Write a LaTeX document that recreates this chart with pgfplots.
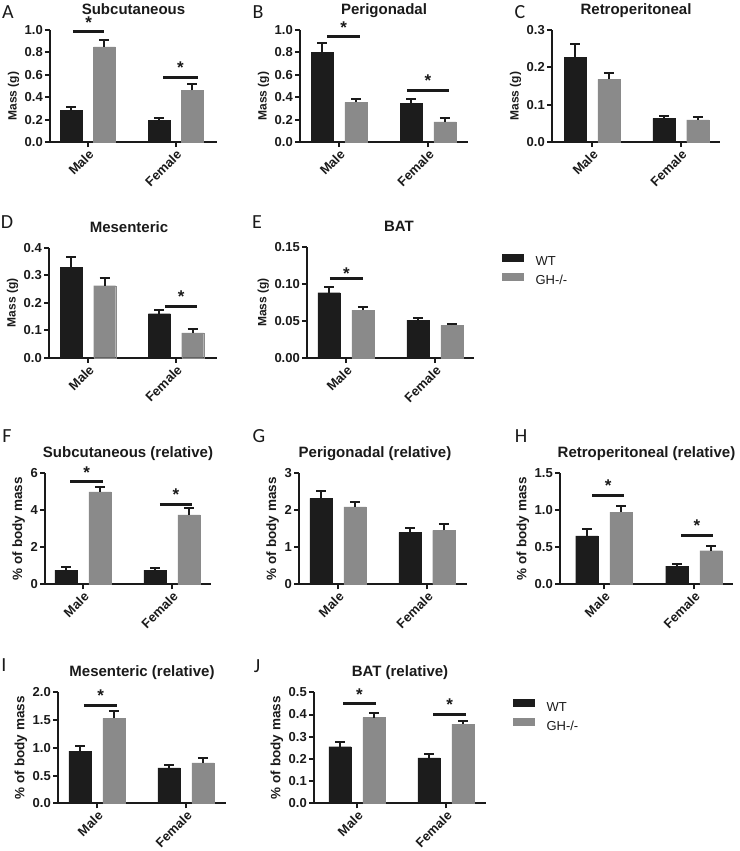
\documentclass[border=0pt]{standalone}
\usepackage{fontspec}
\setmainfont{Liberation Sans}
\newfontfamily\letterfont{Carlito}
\usepackage{pgfplots}
\pgfplotsset{compat=1.18}
\definecolor{wt}{HTML}{1C1C1C}
\definecolor{gh}{HTML}{8A8A8A}
\definecolor{ax}{HTML}{1A1A1A}
\pgfplotsset{
  pan/.style={
    scale only axis, anchor=south west,
    axis lines=left, axis line style={-, line width=2pt, ax},
    ymin=0, xtick={0,1}, xticklabels={Male,Female},
    tick align=outside, major tick length=5pt,
    tick style={line width=2pt, ax},
    every tick label/.append style={font=\bfseries\fontsize{13}{13}\selectfont, text=ax},
    xticklabel style={rotate=45, anchor=north east, inner sep=1pt},
    yticklabel style={inner sep=2pt},
    ylabel style={font=\bfseries\fontsize{12}{12}\selectfont, text=ax},
    title style={font=\bfseries\fontsize{15}{15}\selectfont, text=ax, at={(0.5,1)}, anchor=base, yshift=9.6pt},
    clip=false,
  },
  relpan/.style={pan, ylabel={\% of body mass}, ylabel style={font=\bfseries\fontsize{13.5}{13.5}\selectfont}},
  wtbar/.style={ybar, bar width=0.25, bar shift=0pt, fill=wt, draw=wt, line width=0.3pt,
    error bars/.cd, y dir=plus, y explicit, error mark=|,
    error bar style={draw=ax, line width=2pt},
    error mark options={draw=ax, line width=2pt, mark size=5pt}},
  ghbar/.style={ybar, bar width=0.25, bar shift=0pt, fill=gh, draw=gh, line width=0.3pt,
    error bars/.cd, y dir=plus, y explicit, error mark=|,
    error bar style={draw=ax, line width=2pt},
    error mark options={draw=ax, line width=2pt, mark size=5pt}},
  lwt/.style={legend image code/.code={\fill[wt] (0pt,1.15pt) rectangle (21pt,8.15pt);}},
  lgh/.style={legend image code/.code={\fill[gh] (0pt,1.15pt) rectangle (21pt,8.15pt);}},
  leg/.style={legend style={at={#1}, anchor=north west, draw=none, fill=none, inner sep=0pt,
    font=\fontsize{13}{13}\selectfont, text=ax, row sep=5.3pt, column sep=12pt, nodes={inner sep=0pt}},
    legend cell align=left},
}
% \sig[yshift]{x1}{x2}{xc}{y}
\newcommand\sig[5][3.3pt]{%
  \draw[line width=3pt, ax] (axis cs:#2,#5) -- (axis cs:#3,#5);
  \node[font=\bfseries\fontsize{17}{17}\selectfont, text=ax, anchor=base, inner sep=0pt, yshift=#1] at (axis cs:#4,#5) {*};
}
\begin{document}
\begin{tikzpicture}
\path[use as bounding box] (0,0) rectangle (739pt,-851pt);

% panel letters
\begin{scope}[every node/.style={font=\letterfont\fontsize{20}{20}\selectfont, text=ax, inner sep=0pt}]
\node at (8pt,-12pt) {A};
\node at (258pt,-12pt) {B};
\node at (520pt,-12pt) {C};
\node at (7pt,-222pt) {D};
\node at (257pt,-222pt) {E};
\node at (7pt,-436pt) {F};
\node at (259pt,-436pt) {G};
\node at (521pt,-436pt) {H};
\node at (4pt,-665pt) {I};
\node at (257pt,-666pt) {J};
\end{scope}

% A
\begin{axis}[pan, at={(50pt,-142pt)}, width=167pt, height=112pt, xmin=-0.43, xmax=1.47, ymax=1.0,
  ytick={0,0.2,0.4,0.6,0.8,1.0}, yticklabels={0.0,0.2,0.4,0.6,0.8,1.0},
  title={Subcutaneous}, ylabel={Mass (g)}, ylabel style={at={(ticklabel cs:0.41)}}]
\addplot[wtbar] coordinates {(-0.19,0.28) +- (0,0.03) (0.81,0.196) +- (0,0.019)};
\addplot[ghbar] coordinates {(0.19,0.85) +- (0,0.06) (1.19,0.46) +- (0,0.06)};
\sig{-0.17}{0.19}{0.01}{0.985}
\sig{0.86}{1.25}{1.055}{0.58}
\end{axis}

% B
\begin{axis}[pan, at={(300pt,-142pt)}, width=168pt, height=112pt, xmin=-0.44, xmax=1.45, ymax=1.0,
  ytick={0,0.2,0.4,0.6,0.8,1.0}, yticklabels={0.0,0.2,0.4,0.6,0.8,1.0},
  title={Perigonadal}, ylabel={Mass (g)}, ylabel style={at={(ticklabel cs:0.41)}}]
\addplot[wtbar] coordinates {(-0.19,0.80) +- (0,0.08) (0.81,0.348) +- (0,0.036)};
\addplot[ghbar] coordinates {(0.19,0.354) +- (0,0.03) (1.19,0.18) +- (0,0.034)};
\sig{-0.135}{0.236}{0.05}{0.94}
\sig{0.764}{1.236}{1.0}{0.464}
\end{axis}

% C
\begin{axis}[pan, at={(552pt,-142pt)}, width=168pt, height=112pt, xmin=-0.45, xmax=1.44, ymax=0.3,
  ytick={0,0.1,0.2,0.3}, yticklabels={0.0,0.1,0.2,0.3},
  title={Retroperitoneal}, ylabel={Mass (g)}, ylabel style={at={(ticklabel cs:0.41)}}]
\addplot[wtbar] coordinates {(-0.19,0.227) +- (0,0.0355) (0.81,0.0635) +- (0,0.007)};
\addplot[ghbar] coordinates {(0.19,0.168) +- (0,0.018) (1.19,0.059) +- (0,0.009)};
\end{axis}

% D
\begin{axis}[pan, at={(49pt,-357.7pt)}, width=168pt, height=110pt, xmin=-0.443, xmax=1.466, ymax=0.4,
  ytick={0,0.1,0.2,0.3,0.4}, yticklabels={0.0,0.1,0.2,0.3,0.4},
  title={Mesenteric}, ylabel={Mass (g)}, title style={xshift=-4pt}]
\addplot[wtbar] coordinates {(-0.19,0.329) +- (0,0.038) (0.81,0.16) +- (0,0.015)};
\addplot[ghbar] coordinates {(0.19,0.262) +- (0,0.027) (1.19,0.09) +- (0,0.013)};
\sig{0.875}{1.24}{1.06}{0.188}
\end{axis}

% E
\begin{axis}[pan, at={(307pt,-358pt)}, width=167pt, height=111pt, xmin=-0.438, xmax=1.438, ymax=0.15,
  ytick={0,0.05,0.10,0.15}, yticklabels={0.00,0.05,0.10,0.15},
  title={BAT}, ylabel={Mass (g)}, title style={xshift=8.5pt}, leg={(1.1677,0.9405)}]
\addplot[lwt, wtbar] coordinates {(-0.19,0.0883) +- (0,0.0082) (0.81,0.0512) +- (0,0.0031)};
\addlegendentry{WT}
\addplot[lgh, ghbar] coordinates {(0.19,0.0648) +- (0,0.0037) (1.19,0.044) +- (0,0.0022)};
\addlegendentry{GH-/-}
\sig[-0.7pt]{-0.18}{0.19}{0.005}{0.107}
\end{axis}

% F
\begin{axis}[relpan, at={(45pt,-584.3pt)}, width=166pt, height=111pt, xmin=-0.427, xmax=1.438, ymax=6,
  ytick={0,2,4,6}, yticklabels={0,2,4,6},
  title={Subcutaneous (relative)}]
\addplot[wtbar] coordinates {(-0.19,0.77) +- (0,0.15) (0.81,0.77) +- (0,0.09)};
\addplot[ghbar] coordinates {(0.19,5.0) +- (0,0.28) (1.19,3.75) +- (0,0.39)};
\sig{-0.146}{0.225}{0.04}{5.55}
\sig{0.865}{1.225}{1.045}{4.34}
\end{axis}

% G
\begin{axis}[relpan, at={(299pt,-584.3pt)}, width=168pt, height=111pt, xmin=-0.438, xmax=1.45, ymax=3,
  ytick={0,1,2,3}, yticklabels={0,1,2,3},
  title={Perigonadal (relative)}, title style={xshift=-8pt}]
\addplot[wtbar] coordinates {(-0.19,2.32) +- (0,0.2) (0.81,1.405) +- (0,0.105)};
\addplot[ghbar] coordinates {(0.19,2.09) +- (0,0.14) (1.19,1.46) +- (0,0.18)};
\end{axis}

% H
\begin{axis}[relpan, at={(560pt,-584.3pt)}, width=173pt, height=111pt, xmin=-0.489, xmax=1.433, ymax=1.5,
  ytick={0,0.5,1.0,1.5}, yticklabels={0.0,0.5,1.0,1.5},
  title={Retroperitoneal (relative)}]
\addplot[wtbar] coordinates {(-0.19,0.653) +- (0,0.094) (0.81,0.247) +- (0,0.027)};
\addplot[ghbar] coordinates {(0.19,0.977) +- (0,0.081) (1.19,0.454) +- (0,0.068)};
\sig[4.3pt]{-0.133}{0.222}{0.045}{1.197}
\sig[4.3pt]{0.856}{1.211}{1.033}{0.653}
\end{axis}

% I
\begin{axis}[relpan, at={(58pt,-803.3pt)}, width=168pt, height=111pt, xmin=-0.438, xmax=1.449, ymax=2.0,
  ytick={0,0.5,1.0,1.5,2.0}, yticklabels={0.0,0.5,1.0,1.5,2.0},
  title={Mesenteric (relative)}]
\addplot[wtbar] coordinates {(-0.19,0.942) +- (0,0.098) (0.81,0.64) +- (0,0.05)};
\addplot[ghbar] coordinates {(0.19,1.53) +- (0,0.13) (1.19,0.73) +- (0,0.09)};
\sig{-0.146}{0.225}{0.04}{1.77}
\end{axis}

% J
\begin{axis}[relpan, at={(314pt,-803.3pt)}, width=172pt, height=111pt, xmin=-0.483, xmax=1.449, ymax=0.5,
  ytick={0,0.1,0.2,0.3,0.4,0.5}, yticklabels={0.0,0.1,0.2,0.3,0.4,0.5},
  title={BAT (relative)}, leg={(1.157,0.9396)}]
\addplot[lwt, wtbar] coordinates {(-0.19,0.255) +- (0,0.02) (0.81,0.205) +- (0,0.017)};
\addlegendentry{WT}
\addplot[lgh, ghbar] coordinates {(0.19,0.386) +- (0,0.022) (1.19,0.357) +- (0,0.014)};
\addlegendentry{GH-/-}
\sig{-0.157}{0.213}{0.028}{0.45}
\sig{0.854}{1.225}{1.04}{0.402}
\end{axis}
\end{tikzpicture}
\end{document}
